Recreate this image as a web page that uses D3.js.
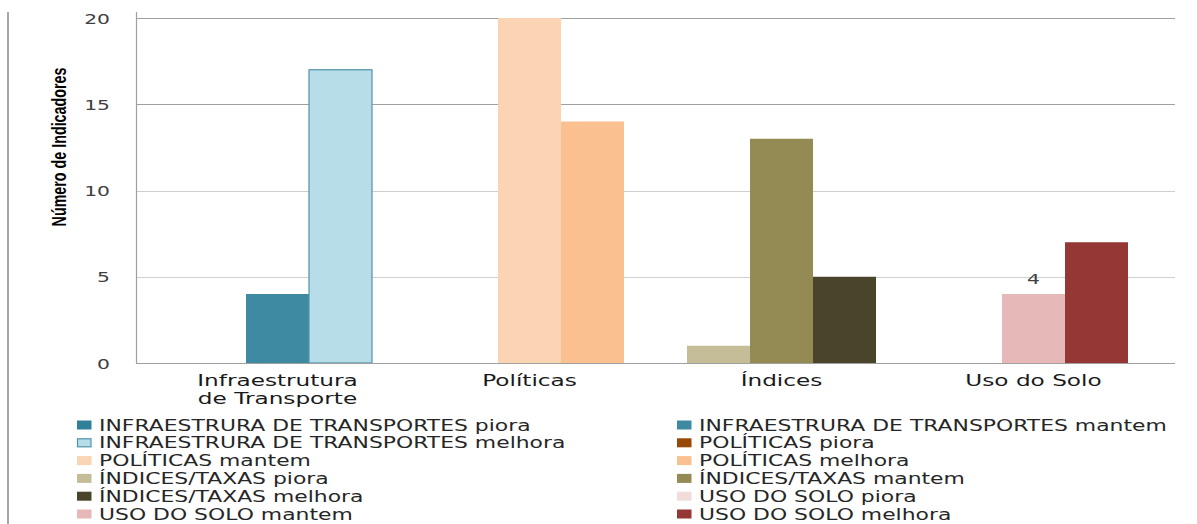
<!DOCTYPE html>
<html>
<head>
<meta charset="utf-8">
<script src="https://cdn.jsdelivr.net/npm/d3@7/dist/d3.min.js"></script>
<style>
  html, body { margin: 0; padding: 0; background: #fff; }
  svg { display: block; }
</style>
</head>
<body>
<script>
// ---------- data ----------
const categories = ["Infraestrutura de Transporte", "Políticas", "Índices", "Uso do Solo"];
const seriesPrefixes = ["INFRAESTRURA DE TRANSPORTES", "POLÍTICAS", "ÍNDICES/TAXAS", "USO DO SOLO"];
const outcomes = ["piora", "mantem", "melhora"];
const pioraValues   = [0, 0, 1, 0];
const mantemValues  = [4, 20, 13, 4];
const melhoraValues = [17, 14, 5, 7];
const yTicks = [0, 5, 10, 15, 20];
const yTitle = "Número de Indicadores";
// data labels shown in the original (category index, outcome)
const labelledBars = [{cat: 3, outcome: "mantem"}];

// ---------- styles ----------
const seriesColors = [
  ["#31809a", "#3d8aa2", "#b7dee8"],
  ["#984807", "#fbd4b4", "#fac08f"],
  ["#c4bd97", "#948a54", "#4a452a"],
  ["#f2dcdb", "#e6b8b7", "#953735"]
];
const seriesStroke = [
  [null, null, "#4f93a8"],
  [null, null, null],
  [null, null, null],
  [null, null, null]
];

const W = 1197, H = 524;
const SX = 1.45; // horizontal text stretch of the original picture
const margin = {left: 136, right: 22, top: 18, bottom: 161};

const valuesByOutcome = {piora: pioraValues, mantem: mantemValues, melhora: melhoraValues};

const svg = d3.select("body").append("svg").attr("width", W).attr("height", H);
svg.append("rect").attr("width", W).attr("height", H).attr("fill", "#fff");

const x0 = d3.scaleBand().domain(categories)
  .range([margin.left, W - margin.right]).paddingInner(0).paddingOuter(0.0615);
const x1 = d3.scaleBand().domain(outcomes)
  .range([0, x0.bandwidth()]).paddingInner(0).paddingOuter(0.5);
const y = d3.scaleLinear().domain([0, 20]).range([H - margin.bottom, margin.top]);

// left frame line
svg.append("line").attr("x1", 8).attr("x2", 8).attr("y1", 12).attr("y2", H)
  .attr("stroke", "#a6a6a6").attr("stroke-width", 2);

// gridlines
svg.append("g").selectAll("line").data(yTicks.filter(d => d > 0)).join("line")
  .attr("x1", margin.left).attr("x2", W - margin.right)
  .attr("y1", d => Math.round(y(d)) + 0.5).attr("y2", d => Math.round(y(d)) + 0.5)
  .attr("stroke", d => d > 10 ? "#a0a0a0" : "#cfcfcf").attr("stroke-width", 1.2);

// bars
const barData = [];
categories.forEach((c, i) => {
  outcomes.forEach((o, j) => {
    barData.push({cat: c, ci: i, outcome: o, oj: j, value: valuesByOutcome[o][i]});
  });
});
svg.append("g").selectAll("rect").data(barData.filter(d => d.value > 0)).join("rect")
  .attr("x", d => x0(d.cat) + x1(d.outcome))
  .attr("y", d => y(d.value))
  .attr("width", x1.bandwidth())
  .attr("height", d => y(0) - y(d.value))
  .attr("fill", d => seriesColors[d.ci][d.oj])
  .attr("stroke", d => seriesStroke[d.ci][d.oj] || "none")
  .attr("stroke-width", 1.2);

// axes lines
svg.append("line").attr("x1", margin.left + 0.5).attr("x2", margin.left + 0.5)
  .attr("y1", y(20) - 6).attr("y2", y(0))
  .attr("stroke", "#a0a0a0").attr("stroke-width", 1.2);
svg.append("line").attr("x1", margin.left).attr("x2", W - margin.right)
  .attr("y1", y(0) + 0.5).attr("y2", y(0) + 0.5)
  .attr("stroke", "#a0a0a0").attr("stroke-width", 1.2);

// y axis
const yAxis = svg.append("g").attr("transform", `translate(${margin.left},0)`)
  .call(d3.axisLeft(y).tickValues(yTicks).tickSize(0).tickFormat(d3.format("d")));
yAxis.select(".domain").remove();
yAxis.selectAll("text")
  .attr("x", -26 / SX).attr("dy", "0.36em")
  .attr("transform", `scale(${SX},1)`)
  .attr("font-family", "DejaVu Sans").attr("font-size", 14).attr("fill", "#404040");

// x axis
const xAxis = svg.append("g").attr("transform", `translate(0,${y(0)})`)
  .call(d3.axisBottom(x0).tickSize(0));
xAxis.select(".domain").remove();
xAxis.selectAll("text")
  .attr("font-family", "DejaVu Sans").attr("font-size", 16).attr("fill", "#1a1a1a")
  .attr("y", 23).attr("dy", 0)
  .attr("transform", `scale(${SX},1)`)
  .each(function(d) {
    const t = d3.select(this);
    const words = d.split(" ");
    const maxW = x0.bandwidth() * 0.7 / SX;
    t.text(null);
    let line = [];
    let tspan = t.append("tspan").attr("x", 0).attr("dy", 0);
    words.forEach(w => {
      line.push(w);
      tspan.text(line.join(" "));
      if (tspan.node().getComputedTextLength() > maxW && line.length > 1) {
        line.pop();
        tspan.text(line.join(" "));
        line = [w];
        tspan = t.append("tspan").attr("x", 0).attr("dy", 18).text(w);
      }
    });
  });

// data labels
svg.append("g").selectAll("text").data(labelledBars).join("text")
  .attr("transform", d => {
    const c = categories[d.cat];
    const v = valuesByOutcome[d.outcome][d.cat];
    return `translate(${x0(c) + x1(d.outcome) + x1.bandwidth() / 2},${y(v) - 10}) scale(${SX},1)`;
  })
  .attr("text-anchor", "middle")
  .attr("font-family", "DejaVu Sans").attr("font-size", 14).attr("fill", "#404040")
  .text(d => valuesByOutcome[d.outcome][d.cat]);

// y title
svg.append("text")
  .attr("transform", `translate(66,147) scale(${SX},1) rotate(-90)`)
  .attr("text-anchor", "middle")
  .attr("font-family", "Liberation Sans").attr("font-weight", "bold")
  .attr("font-size", 14.3).attr("fill", "#000")
  .text(yTitle);

// legend
const legendItems = [];
seriesPrefixes.forEach((p, i) => outcomes.forEach((o, j) => {
  legendItems.push({label: p + " " + o, color: seriesColors[i][j], stroke: seriesStroke[i][j]});
}));
const legendColX = [77, 677];
const legendY0 = 425, legendRowH = 17.8;
const lg = svg.append("g").selectAll("g").data(legendItems).join("g")
  .attr("transform", (d, k) => `translate(${legendColX[k % 2]},${legendY0 + legendRowH * Math.floor(k / 2)})`);
lg.append("rect")
  .attr("x", d => d.stroke ? 0.5 : 0).attr("y", d => d.stroke ? -4 : -4.5)
  .attr("width", d => d.stroke ? 13.5 : 14.5).attr("height", d => d.stroke ? 8 : 9)
  .attr("fill", d => d.color)
  .attr("stroke", d => d.stroke || "none").attr("stroke-width", 1.2);
lg.append("text")
  .attr("transform", `translate(22,5.5) scale(${SX},1)`)
  .attr("font-family", "DejaVu Sans").attr("font-size", 15.1).attr("fill", "#262626")
  .text(d => d.label);
</script>
</body>
</html>
